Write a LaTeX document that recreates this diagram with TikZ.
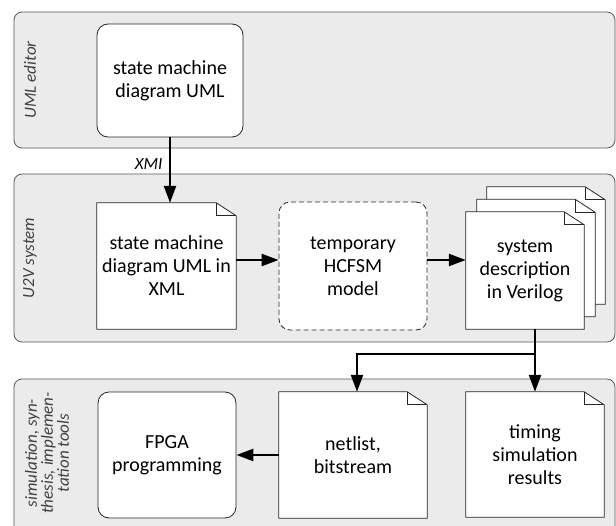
\documentclass[tikz,border=0pt]{standalone}
\usepackage{fontspec}
\setmainfont{Carlito}
\definecolor{lanegray}{HTML}{EBEBEB}
\definecolor{laneline}{HTML}{595959}
\definecolor{lanetext}{HTML}{404040}
\definecolor{boxline}{HTML}{262626}
\newcommand{\boxfont}{\fontsize{20}{23}\selectfont}
\newcommand{\lanefont}{\itshape\fontsize{17}{16}\selectfont}
\usetikzlibrary{arrows.meta, calc, positioning}

\tikzset{
	lane/.style={draw=laneline, fill=lanegray, line width=0.8pt, rounded corners=8pt},
	lanelabel/.style={rotate=90, align=center, text=lanetext, font=\lanefont, inner sep=0pt},
	statebox/.style={draw=boxline, fill=white, line width=0.8pt, rounded corners=11pt, inner sep=0pt, align=center, font=\boxfont},
	docnode/.style={inner sep=0pt, align=center, font=\boxfont,
		append after command={\pgfextra{
			\draw[boxline, fill=white, line width=0.8pt, line join=miter] (\tikzlastnode.south west) -- (\tikzlastnode.north west) -- ([xshift=-20pt]\tikzlastnode.north east) -- ([yshift=-13pt]\tikzlastnode.north east) -- (\tikzlastnode.south east) -- cycle;
			\draw[boxline, line width=0.8pt] ([xshift=-20pt]\tikzlastnode.north east) |- ([yshift=-13pt]\tikzlastnode.north east);
		}}},
	conn/.style={line width=2.4pt, line join=miter, -{Triangle[length=17pt,width=12pt]}},
}

\begin{document}
\begin{tikzpicture}[x=1pt, y=-1pt]
	\useasboundingbox (0,0) rectangle (616,525);
	\clip (0,0) rectangle (616,525);
	
	\draw[lane] (14,12) rectangle (615,148);
	\draw[lane] (14,174) rectangle (615,342);
	\draw[lane] (14,379) rectangle (615,545);
	
	\node[lanelabel] (editor) at (30,80) {UML editor};
	\node[lanelabel] (u2v) at (30,258) {U2V system};
	\node[lanelabel] (tools) at (47,453) {simulation, syn-\\thesis, implemen-\\tation tools};
	
	\node[statebox, minimum width=146pt, minimum height=113pt] (uml) at (170,80.5) {state machine\\diagram UML};
	
	\node[docnode, minimum width=139pt, minimum height=126pt] (xml) at (166.5,266) {state machine\\diagram UML in\\XML};
	\node[statebox, dash pattern=on 5pt off 3pt, minimum width=148pt, minimum height=128pt] (hcfsm) at (353,266) {temporary\\HCFSM\\model};
	
	\coordinate (verilogc) at (525,270.5);
	\node[docnode, minimum width=118pt, minimum height=117pt] (page3) at ([shift={(21,-25)}]verilogc) {};
	\node[docnode, minimum width=118pt, minimum height=117pt] (page2) at ([shift={(11,-12.5)}]verilogc) {};
	\node[docnode, minimum width=118pt, minimum height=117pt] (verilog) at (verilogc) {system\\description\\in Verilog};
	
	\node[statebox, minimum width=138pt, minimum height=126pt] (fpga) at (167,455) {FPGA\\programming};
	\node[docnode, minimum width=148pt, minimum height=126pt] (netlist) at (353,455) {netlist,\\bitstream};
	\node[docnode, minimum width=138pt, minimum height=125pt] (timing) at (535,454.5) {timing\\simulation\\results};
	
	\draw[conn] (uml.south) -- (uml.south |- xml.north) node[pos=0.4, left=3pt, text=black, font=\lanefont] (xmi) {XMI};
	\draw[conn] ([yshift=6pt]xml.east) -- ([yshift=6pt]xml.east -| hcfsm.west);
	\draw[conn] ([yshift=6pt]hcfsm.east) -- ([yshift=6pt]hcfsm.east -| verilog.west);
	
	\coordinate (split) at ([yshift=-25pt]timing.north |- verilog.south);
	\draw[conn] (timing.north |- verilog.south) -- (timing.north);
	\draw[conn] (split) -| ([xshift=4pt]netlist.north);
	\draw[conn] (netlist.west) -- (fpga.east);
	
\end{tikzpicture}
\end{document}
